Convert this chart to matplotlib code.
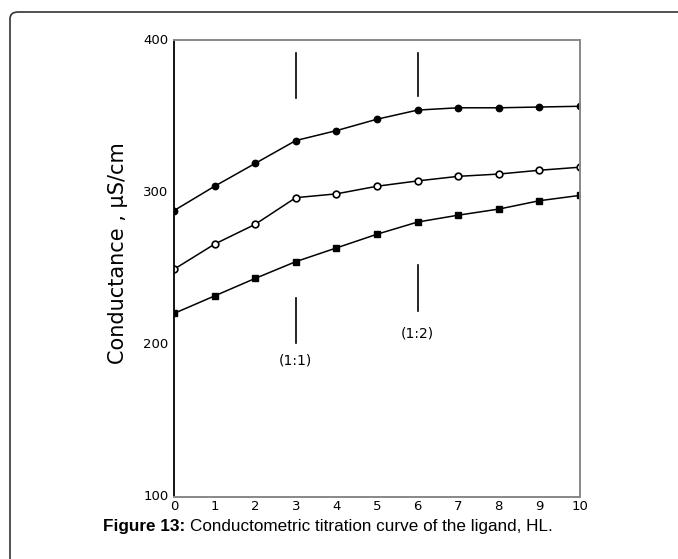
import matplotlib.pyplot as plt
from matplotlib.patches import FancyBboxPatch

# titration data
x = [0, 1, 2, 3, 4, 5, 6, 7, 8, 9, 10]
filled = [288, 304, 319, 334, 340.5, 348, 354, 355.5, 355.5, 356, 356.5]
opened = [249.5, 266, 279, 296.5, 299, 304, 307.5, 310.5, 312, 314.5, 316.5]
squares = [220.5, 232, 243.5, 254.5, 263.5, 272.5, 280.5, 285, 289, 294.5, 298]

# break point markers (x, y_low, y_high)
upper_marks = [(3, 362, 391.5), (6, 363.5, 391.5)]
lower_marks = [(3, 201, 230.5), (6, 222, 252)]
ratio_labels = [(3, 189.5, "(1:1)"), (6, 207.5, "(1:2)")]

fig = plt.figure(figsize=(6.78, 5.59), dpi=100)

# outer frame of the figure box (rounded top-left, cropped right/bottom)
frame = FancyBboxPatch((10 / 678, -0.05), 1.0, 1 - 12 / 559 + 0.05,
                       boxstyle="round,pad=0,rounding_size=0.012",
                       transform=fig.transFigure, fill=False,
                       edgecolor="#333333", linewidth=1.2)
fig.patches.append(frame)

ax = fig.add_axes([174 / 678, 1 - 497 / 559, 406 / 678, 457 / 559])

ax.plot(x, filled, color="black", lw=1.1, marker="o", ms=4.6,
        mfc="black", mec="black")
ax.plot(x, opened, color="black", lw=1.1, marker="o", ms=4.8,
        mfc="white", mec="black", mew=1.2)
ax.plot(x, squares, color="black", lw=1.1, marker="s", ms=4.3,
        mfc="black", mec="black")

for xm, y0, y1 in upper_marks + lower_marks:
    ax.plot([xm, xm], [y0, y1], color="black", lw=1.2)
for xm, yl, txt in ratio_labels:
    ax.text(xm, yl, txt, ha="center", va="center", fontsize=10)

ax.set_xlim(0, 10)
ax.set_ylim(100, 400)
ax.set_xticks(x)
ax.set_yticks([100, 200, 300, 400])
ax.tick_params(length=0, labelsize=9.5)
ax.tick_params(axis="x", pad=2)
ax.tick_params(axis="y", pad=4)
for lab in ax.get_yticklabels():
    lab.set_verticalalignment("center")

ax.spines["left"].set_color("black")
ax.spines["left"].set_linewidth(1.3)
for s in ["top", "right", "bottom"]:
    ax.spines[s].set_color("#888888")
    ax.spines[s].set_linewidth(1.4)

ax.set_ylabel("Conductance , \u03bcS/cm", fontsize=15)
ax.yaxis.set_label_coords(-0.113, 0.534)

fig.text(103 / 678, 1 - 527 / 559, "Figure 13:", fontsize=12.3,
         fontweight="bold", family="Liberation Sans", va="center")
fig.text(190 / 678, 1 - 527 / 559,
         "Conductometric titration curve of the ligand, HL.",
         fontsize=12.3, family="Liberation Sans", va="center")

fig.savefig("out.png", dpi=100)
